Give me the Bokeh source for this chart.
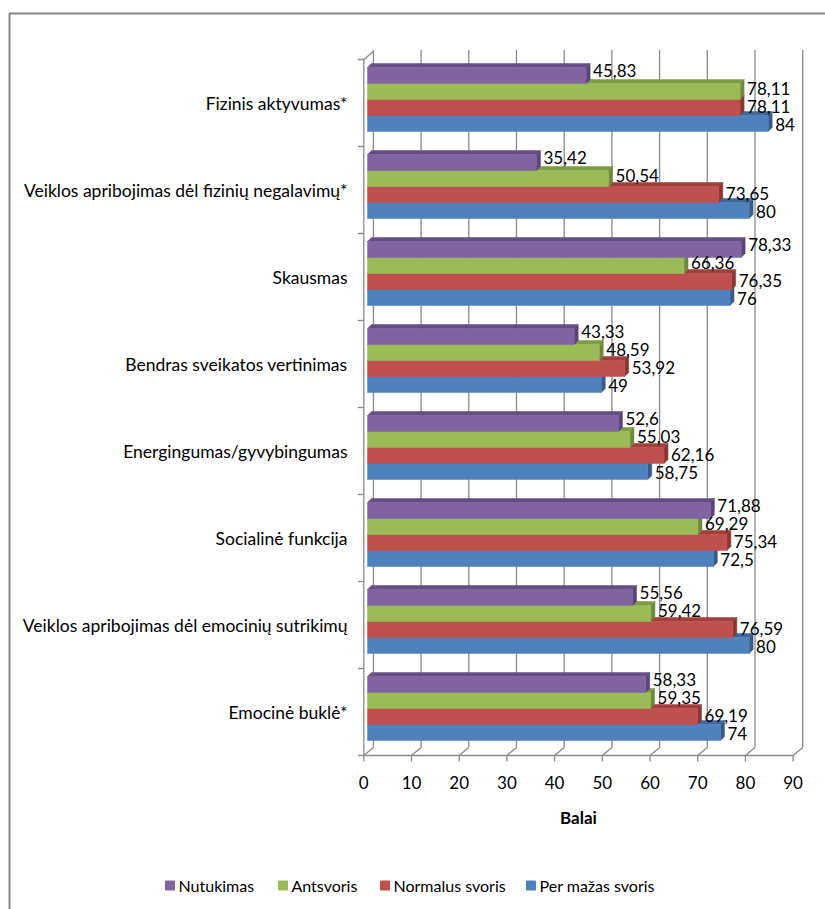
from bokeh.plotting import figure
from bokeh.models import Range1d
from bokeh.embed import file_html
from bokeh.resources import INLINE
from bokeh.core.properties import value

# ---------------- data ----------------
categories = [
    "Fizinis aktyvumas*",
    "Veiklos apribojimas dėl fizinių negalavimų*",
    "Skausmas",
    "Bendras sveikatos vertinimas",
    "Energingumas/gyvybingumas",
    "Socialinė funkcija",
    "Veiklos apribojimas dėl emocinių sutrikimų",
    "Emocinė buklė*",
]
series_names = ["Nutukimas", "Antsvoris", "Normalus svoris", "Per mažas svoris"]
nutukimas = [45.83, 35.42, 78.33, 43.33, 52.6, 71.88, 55.56, 58.33]
antsvoris = [78.11, 50.54, 66.36, 48.59, 55.03, 69.29, 59.42, 59.35]
normalus_svoris = [78.11, 73.65, 76.35, 53.92, 62.16, 75.34, 76.59, 69.19]
per_mazas_svoris = [84, 80, 76, 49, 58.75, 72.5, 80, 74]
x_ticks = [0, 10, 20, 30, 40, 50, 60, 70, 80, 90]
x_title = "Balai"

series_values = [nutukimas, antsvoris, normalus_svoris, per_mazas_svoris]

# ---------------- style / layout ----------------
W, H = 825, 909
FONT = "Lato"
front_col = ["#8064A2", "#9BBB59", "#C0504D", "#4F81BD"]
top_col = ["#654E86", "#7E9B45", "#A03F3C", "#3D699C"]
side_col = ["#59457A", "#6E893B", "#8C3633", "#345C8C"]
GRID_COL = "#8a8a8a"

S = 4.77        # px per value unit
X0 = 363.3      # px of value 0 on the front plane
YB = 755.0      # px of the front floor line
BAND = 87.0     # px per category band
BACK_DX, BACK_DY = 9.6, 8.0   # 3D wall offset (px)
BAR_DX = 3.7    # bars shifted right from front plane
GROUP_TOP = 8.0 # px from band top to first bar
BAR_H = 16.0    # px per bar
DEPTH = 4.0     # bar 3D depth in px
label_dy = [5, 3, 1, -1]  # label lift per series (px)
legend_sq_px = [165, 278, 380, 526]  # legend square left edges (px)
LEGEND_Y_PX = 885

def ux(px_):
    return (px_ - X0) / S

def dxu(d):
    return d / S

def uy(py):
    return (YB - py) / BAND

def dyu(d):
    return d / BAND

N = len(categories)

p = figure(width=W, height=H,
           x_range=Range1d(ux(0), ux(W)), y_range=Range1d(uy(H), uy(0)),
           min_border=0, toolbar_location=None, output_backend="svg",
           x_axis_location=None, y_axis_location=None,
           outline_line_color=None, background_fill_color="white",
           border_fill_color="white")
p.xgrid.visible = False
p.ygrid.visible = False

# outer chart border
p.line(x=[ux(9), ux(9), ux(W + 5)], y=[uy(H + 5), uy(13), uy(13)],
       line_color="#878787", line_width=2)

# back wall gridlines
gtop = uy(49.5)
p.segment(x0=[t + dxu(BACK_DX) for t in x_ticks], y0=[dyu(BACK_DY)] * len(x_ticks),
          x1=[t + dxu(BACK_DX) for t in x_ticks], y1=[gtop] * len(x_ticks),
          line_color=GRID_COL, line_width=1.3)
# floor diagonals
p.segment(x0=x_ticks, y0=[0] * len(x_ticks),
          x1=[t + dxu(BACK_DX) for t in x_ticks], y1=[dyu(BACK_DY)] * len(x_ticks),
          line_color=GRID_COL, line_width=1.3)
# front x axis line + ticks
p.segment(x0=[x_ticks[0]], y0=[0], x1=[x_ticks[-1]], y1=[0], line_color=GRID_COL, line_width=1.3)
p.segment(x0=x_ticks, y0=[0] * len(x_ticks), x1=x_ticks, y1=[-dyu(6)] * len(x_ticks),
          line_color=GRID_COL, line_width=1.3)
# left wall: front vertical line, top diagonal, boundary ticks
p.segment(x0=[0], y0=[0], x1=[0], y1=[N], line_color=GRID_COL, line_width=1.3)
p.segment(x0=[0], y0=[N], x1=[dxu(BACK_DX)], y1=[N + dyu(BACK_DY)], line_color=GRID_COL, line_width=1.3)
p.segment(x0=[0] * (N + 1), y0=list(range(N + 1)), x1=[-dxu(6)] * (N + 1), y1=list(range(N + 1)),
          line_color=GRID_COL, line_width=1.3)

# bars: draw bottom series first so upper bars cover hidden faces
ddx, ddy = dxu(DEPTH), dyu(DEPTH)
L = dxu(BAR_DX)
for j in reversed(range(len(series_values))):
    vals = series_values[j]
    tops, bots, rights = [], [], []
    top_xs, top_ys, side_xs, side_ys = [], [], [], []
    for i, v in enumerate(vals):
        T = (N - i) - dyu(GROUP_TOP + BAR_H * j)
        B = T - dyu(BAR_H)
        R = v + L
        tops.append(T); bots.append(B); rights.append(R)
        top_xs.append([L, R, R + ddx, L + ddx]); top_ys.append([T, T, T + ddy, T + ddy])
        side_xs.append([R, R + ddx, R + ddx, R]); side_ys.append([T, T + ddy, B + ddy, B])
    p.patches(xs=top_xs, ys=top_ys, fill_color=top_col[j], line_color=top_col[j], line_width=0.5)
    p.patches(xs=side_xs, ys=side_ys, fill_color=side_col[j], line_color=side_col[j], line_width=0.5)
    p.quad(left=[L] * N, right=rights, top=tops, bottom=bots,
           fill_color=front_col[j], line_color=front_col[j], line_width=0.5)

# data labels
for j, vals in enumerate(series_values):
    lx = [v + dxu(BAR_DX + 7) for v in vals]
    ly = [(N - i) - dyu(GROUP_TOP + BAR_H * j + BAR_H / 2 - label_dy[j]) for i in range(N)]
    txt = [f"{v:g}".replace(".", ",") for v in vals]
    p.text(x=lx, y=ly, text=txt, text_font=value(FONT), text_font_size="17px",
           text_color="black", text_align="left", text_baseline="middle")

# category labels
p.text(x=[ux(347)] * N, y=[N - i - 0.5 for i in range(N)], text=categories,
       text_font=value(FONT), text_font_size="17.5px", text_color="black",
       text_align="right", text_baseline="middle")

# x tick labels
p.text(x=x_ticks, y=[uy(782)] * len(x_ticks), text=[str(t) for t in x_ticks],
       text_font=value(FONT), text_font_size="17px", text_color="black",
       text_align="center", text_baseline="middle")

# axis title
p.text(x=[(x_ticks[0] + x_ticks[-1]) / 2], y=[uy(817)], text=[x_title],
       text_font=value(FONT), text_font_size="17px", text_font_style="bold",
       text_color="black", text_align="center", text_baseline="middle")

# legend (squares + labels)
sq = 9
p.quad(left=[ux(x) for x in legend_sq_px], right=[ux(x + sq) for x in legend_sq_px],
       top=[uy(LEGEND_Y_PX - sq / 2)] * 4, bottom=[uy(LEGEND_Y_PX + sq / 2)] * 4,
       fill_color=front_col, line_color=front_col)
p.text(x=[ux(x + sq + 4) for x in legend_sq_px], y=[uy(LEGEND_Y_PX)] * 4, text=series_names,
       text_font=value(FONT), text_font_size="16px", text_color="black",
       text_align="left", text_baseline="middle")

open("out.html", "w").write(file_html(p, INLINE))
